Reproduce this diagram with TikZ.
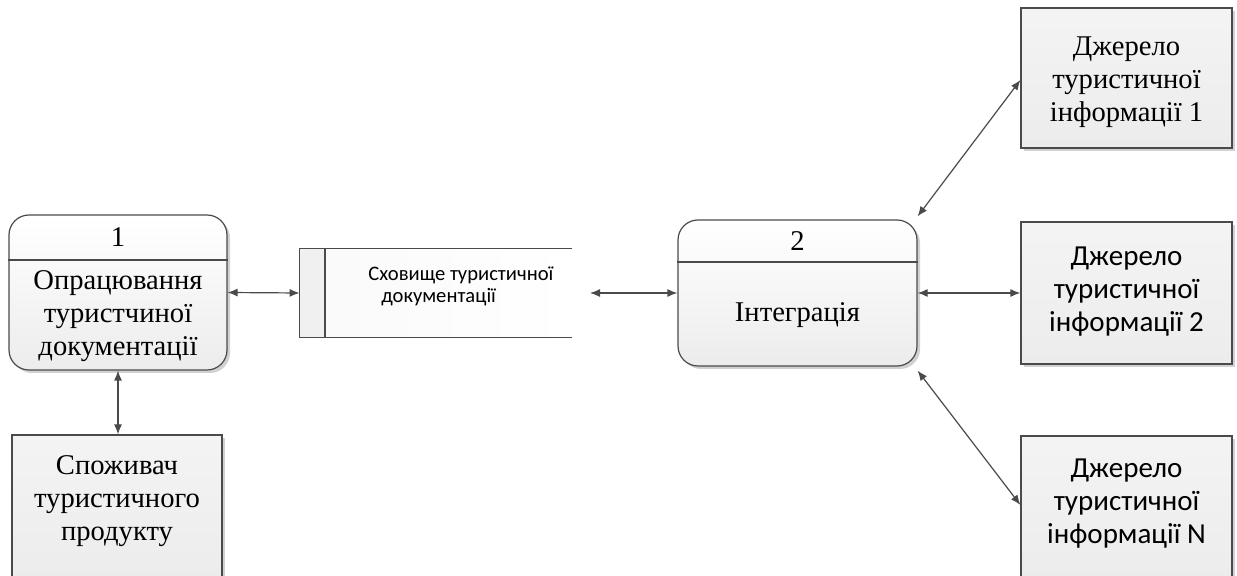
\documentclass[tikz,border=0pt]{standalone}
\usepackage{fontspec}
\setmainfont{Liberation Serif}
\newfontfamily\carl{Carlito}
\usetikzlibrary{arrows.meta,shadows}

\definecolor{edge}{HTML}{4A4A4A}
\definecolor{shade}{HTML}{ECECEC}

\tikzset{
  boxshadow/.style={drop shadow={shadow xshift=1.5pt,shadow yshift=-1.5pt,fill=black!18,opacity=1}},
  procbox/.style={draw=edge,line width=0.6pt,rounded corners=10pt,top color=white,bottom color=shade,
    boxshadow,inner sep=0pt},
  extbox/.style={draw=edge,line width=0.6pt,top color=white!40!shade,bottom color=shade,boxshadow,inner sep=0pt},
  serif/.style={font=\fontsize{14.3pt}{16.5pt}\selectfont,align=center,inner sep=0pt},
  sans/.style={font=\carl\fontsize{14.5pt}{16.5pt}\selectfont,align=center,inner sep=0pt},
  flow/.style={draw=edge,line width=0.6pt,{Latex[length=5pt,width=4pt]}-{Latex[length=5pt,width=4pt]}},
}

\begin{document}
\begin{tikzpicture}[x=0.5pt,y=-0.5pt]
\useasboundingbox (0,0) rectangle (1237,576);

% process 1
\node[procbox,minimum width=109pt,minimum height=77.5pt] (p1) at (118,292.5) {};
\draw[edge,line width=0.6pt] (p1.west |- 0,260) -- (p1.east |- 0,260);
\node[serif] (p1num) at (118,237) {1};
\node[serif] (p1txt) at (118,316) {Опрацювання\\туристчиної\\документації};

% consumer
\node[extbox,minimum width=105pt,minimum height=72.5pt] (cons) at (117,507.5) {};
\node[serif] (constxt) at (117,501) {Споживач\\туристичного\\продукту};

% data store (open on the right)
\node[minimum width=136pt,minimum height=44pt,inner sep=0pt,left color=white!70!shade,right color=white] (ds) at (436,293) {};
\fill[shade!80] (ds.north west) rectangle (325,337);
\draw[edge,line width=0.6pt] (ds.north east) -- (ds.north west) -- (ds.south west) -- (ds.south east);
\draw[edge,line width=0.6pt] (325,249) -- (325,337);
\node[font=\carl\fontsize{10.3pt}{11pt}\selectfont,align=left,inner sep=0pt,anchor=west] (dstxt) at (368,286)
  {Сховище туристичної\\\hspace*{6.5pt}документації};
\coordinate (dsout) at (590,293);

% process 2
\node[procbox,minimum width=119.5pt,minimum height=73pt] (p2) at (797.5,293) {};
\draw[edge,line width=0.6pt] (p2.west |- 0,262) -- (p2.east |- 0,262);
\node[serif] (p2num) at (797.5,241) {2};
\node[serif] (p2txt) at (797.5,315) {Інтеграція};

% information sources
\node[extbox,minimum width=105.5pt,minimum height=70pt] (s1) at (1126.5,78) {};
\node[serif] (s1txt) at (1126.5,82) {Джерело\\туристичної\\інформації 1};

\node[extbox,minimum width=105.5pt,minimum height=71pt] (s2) at (1126.5,293) {};
\node[sans] (s2txt) at (1126.5,292) {Джерело\\туристичної\\інформації 2};

\node[extbox,minimum width=105.5pt,minimum height=72pt] (sN) at (1126.5,508) {};
\node[sans] (sNtxt) at (1126.5,504) {Джерело\\туристичної\\інформації N};

% data flows
\draw[flow] (p1.east) -- (ds.west);
\draw[flow] (dsout) -- (p2.west);
\draw[flow] (p2.east) -- (s2.west);
\draw[flow] ([yshift=1.5pt]p2.north east) -- ([yshift=-1pt]s1.west);
\draw[flow] ([yshift=-2pt]p2.south east) -- ([yshift=1.5pt]sN.west);
\draw[flow] (p1.south) -- (p1.south |- cons.north);
\end{tikzpicture}
\end{document}
